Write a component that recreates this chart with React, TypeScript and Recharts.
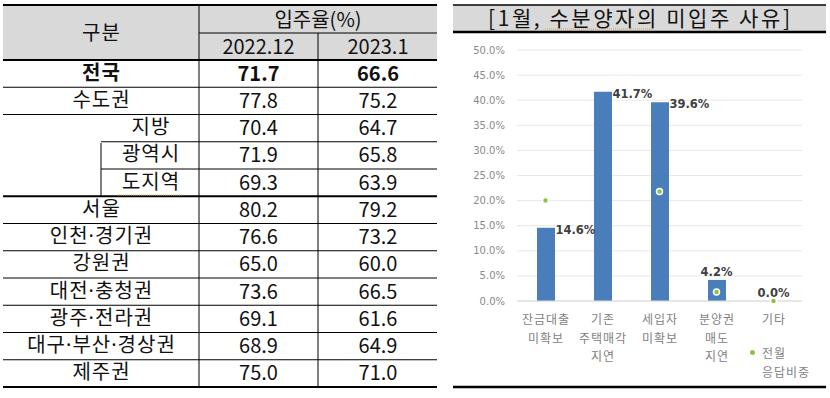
import React from 'react'
import { ComposedChart, Bar, Line, XAxis, YAxis, CartesianGrid, LabelList } from 'recharts'

// left table
const regions = ['전국', '수도권', '지방', '광역시', '도지역', '서울', '인천·경기권', '강원권', '대전·충청권', '광주·전라권', '대구·부산·경상권', '제주권']
const rate2022 = [71.7, 77.8, 70.4, 71.9, 69.3, 80.2, 76.6, 65.0, 73.6, 69.1, 68.9, 75.0]
const rate2023 = [66.6, 75.2, 64.7, 65.8, 63.9, 79.2, 73.2, 60.0, 66.5, 61.6, 64.9, 71.0]
const periods = ['2022.12', '2023.1']

// right chart
const reasons = ['잔금대출\n미확보', '기존\n주택매각\n지연', '세입자\n미확보', '분양권\n매도\n지연', '기타']
const janShare = [14.6, 41.7, 39.6, 4.2, 0.0]
const prevShare = [20.0, null, 21.8, 1.8, 0.0]
const yTicks = [0, 5, 10, 15, 20, 25, 30, 35, 40, 45, 50]

const chartData = reasons.map((r, i) => ({ reason: r, jan: janShare[i], prev: prevShare[i] }))

const KFONT = '"Noto Sans CJK KR", "Noto Sans", sans-serif'
const SUB_ROWS = [2, 3, 4]
const BAR_W = 18

const rowTop = (i: number) => 60 + i * 27.25

// the CJK font has a full-width middle dot, the original uses a narrow one
function RegionText({ label }: { label: string }) {
    const parts = label.split('·')
    return (
        <>
            {parts.map((p, i) => (
                <React.Fragment key={i}>
                    {i > 0 && <tspan fontFamily='"Noto Sans", sans-serif'>·</tspan>}
                    <tspan>{p}</tspan>
                </React.Fragment>
            ))}
        </>
    )
}

function Table() {
    const lines: React.ReactNode[] = []
    regions.forEach((_, i) => {
        const y = rowTop(i + 1)
        const thick = i === 4 || i === regions.length - 1
        const x1 = i === 2 || i === 3 ? 101 : 3
        lines.push(<line key={'h' + i} x1={x1} x2={437} y1={y} y2={y} stroke="#000" strokeWidth={thick ? 2.2 : 1} />)
    })
    return (
        <svg width={830} height={398} style={{ position: 'absolute', left: 0, top: 0 }}>
            {/* header */}
            <rect x={3} y={5} width={434} height={55} fill="#d9d9d9" />
            <line x1={3} x2={437} y1={5} y2={5} stroke="#000" strokeWidth={2} />
            <line x1={3} x2={437} y1={60} y2={60} stroke="#000" strokeWidth={2} />
            <line x1={199} x2={437} y1={33} y2={33} stroke="#000" strokeWidth={1} />
            <line x1={199} x2={199} y1={5} y2={387} stroke="#000" strokeWidth={1} />
            <line x1={318} x2={318} y1={33} y2={387} stroke="#000" strokeWidth={1} />
            <line x1={101} x2={101} y1={143} y2={197} stroke="#000" strokeWidth={1} />
            {lines}
            <g fontFamily={KFONT} fontSize={20} fill="#111" textAnchor="middle">
                <text x={101.5} y={40} letterSpacing={1}>구분</text>
                <text x={318} y={27}>입주율(%)</text>
                <text x={258.5} y={54}>{periods[0]}</text>
                <text x={378} y={54}>{periods[1]}</text>
                {regions.map((r, i) => {
                    const mid = (rowTop(i) + rowTop(i + 1)) / 2
                    const bold = i === 0
                    return (
                        <g key={r} fontWeight={bold ? 700 : 400}>
                            <text x={SUB_ROWS.includes(i) ? 151 : 101.5} y={mid + 6} letterSpacing={1}>
                                <RegionText label={r} />
                            </text>
                            <text x={258.5} y={mid + 7}>{rate2022[i].toFixed(1)}</text>
                            <text x={378} y={mid + 7}>{rate2023[i].toFixed(1)}</text>
                        </g>
                    )
                })}
            </g>
            <line x1={117} x2={182} y1={195} y2={195} stroke="#e0a040" strokeWidth={1} strokeDasharray="1 1" />

            {/* chart title */}
            <rect x={453} y={5} width={373} height={27} fill="#d9d9d9" />
            <line x1={453} x2={826} y1={5} y2={5} stroke="#000" strokeWidth={1.5} />
            <line x1={453} x2={826} y1={32} y2={32} stroke="#000" strokeWidth={2.5} />
            <text x={488} y={26} fontFamily={KFONT} fontSize={21} fill="#111" textLength={302} lengthAdjust="spacing">
                [1월, 수분양자의 미입주 사유]
            </text>
            <line x1={545} x2={653} y1={29} y2={29} stroke="#e0a040" strokeWidth={1} strokeDasharray="1 1" />
            <line x1={453} x2={826} y1={387} y2={387} stroke="#000" strokeWidth={2.5} />
        </svg>
    )
}

function ReasonTick(props: any) {
    const { x, y, payload } = props
    const parts = String(payload.value).split('\n')
    return (
        <text x={x} y={y} textAnchor="middle" fontFamily={KFONT} fontSize={12} fill="#7f7f7f" letterSpacing={1}>
            {parts.map((p, i) => (
                <tspan key={i} x={x + 0.5} dy={i === 0 ? 23 : 18.5}>{p}</tspan>
            ))}
        </text>
    )
}

// labels are hung on an invisible line so the zero-height bar still gets one
function ShareLabel(props: any) {
    const { x, y, value } = props
    const text = `${Number(value).toFixed(1)}%`
    const common = { fontFamily: '"DejaVu Sans", sans-serif', fontSize: 11.5, fontWeight: 700, fill: '#404040' }
    if (value >= 10) {
        return <text x={x + BAR_W / 2 + 1} y={y + 6} {...common}>{text}</text>
    }
    return <text x={x} y={y - 4} textAnchor="middle" {...common}>{text}</text>
}

export default function App() {
    return (
        <div style={{ position: 'absolute', left: 0, top: 0, width: 830, height: 398, background: '#fff', overflow: 'hidden' }}>
            <Table />
            <div style={{ position: 'absolute', left: 453, top: 35 }}>
                <ComposedChart width={377} height={355} data={chartData} margin={{ top: 15, right: 28, bottom: 0, left: 0 }}>
                    <CartesianGrid vertical={false} stroke="#e8e8e8" />
                    <XAxis
                        dataKey="reason"
                        height={89}
                        tick={<ReasonTick />}
                        tickLine={false}
                        tickSize={0}
                        tickMargin={0}
                        axisLine={{ stroke: '#d9d9d9' }}
                        interval={0}
                    />
                    <YAxis
                        width={64}
                        domain={[0, 50]}
                        ticks={yTicks}
                        tickFormatter={(v) => `${Number(v).toFixed(1)}%`}
                        tick={{ fill: '#8a8a8a', fontSize: 10, fontFamily: '"DejaVu Sans", sans-serif' }}
                        axisLine={false}
                        tickLine={false}
                        tickSize={0}
                        tickMargin={12}
                    />
                    <Bar dataKey="jan" fill="#4a7ebb" barSize={BAR_W} isAnimationActive={false} />
                    <Line dataKey="jan" stroke="none" dot={false} activeDot={false} isAnimationActive={false}>
                        <LabelList dataKey="jan" content={<ShareLabel />} />
                    </Line>
                    <Line
                        dataKey="prev"
                        stroke="none"
                        connectNulls={false}
                        dot={{ r: 3, fill: '#8cc63f', stroke: '#fff', strokeWidth: 1.5 }}
                        activeDot={false}
                        isAnimationActive={false}
                    />
                </ComposedChart>
            </div>
            {/* legend */}
            <div style={{ position: 'absolute', left: 750, top: 343, fontFamily: KFONT, fontSize: 12, color: '#7f7f7f', letterSpacing: 1, lineHeight: '19px' }}>
                <div style={{ display: 'flex', alignItems: 'center' }}>
                    <span style={{ display: 'inline-block', width: 5, height: 5, borderRadius: 3, background: '#8cc63f', marginRight: 7 }} />
                    전월
                </div>
                <div style={{ paddingLeft: 12 }}>응답비중</div>
            </div>
        </div>
    )
}
